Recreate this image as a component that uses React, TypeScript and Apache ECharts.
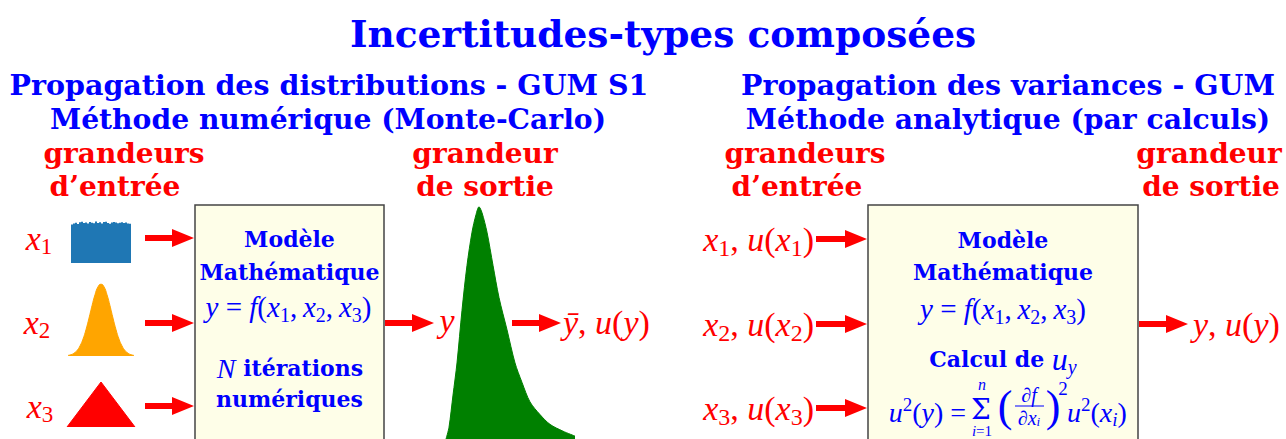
import React, { useEffect, useRef } from 'react';
import * as echarts from 'echarts';

// ---------- data ----------
// x1 : uniform distribution (histogram, noisy top)
const uniformBins = ['1','2','3','4','5','6','7','8','9','10','11','12','13','14','15','16','17','18','19','20','21','22','23','24','25','26','27','28','29','30'];
const uniformHeights = [38.6, 39.4, 40.2, 39.1, 40.8, 41.3, 40.0, 40.6, 39.4, 41.0, 40.3, 39.8, 41.5, 40.1, 40.7, 39.6, 40.9, 41.2, 40.0, 39.3, 40.5, 41.1, 40.4, 39.7, 40.2, 40.8, 39.9, 40.6, 39.5, 39.2];
// x2 : gaussian distribution
const gaussX = [-33, -30, -27, -24, -21, -18, -15, -12, -9, -6, -3, 0, 3, 6, 9, 12, 15, 18, 21, 24, 27, 30, 33];
const gaussY = [0.6, 1.3, 2.8, 5.5, 10.1, 16.9, 26.4, 37.9, 50.2, 61.3, 69.2, 72, 69.2, 61.3, 50.2, 37.9, 26.4, 16.9, 10.1, 5.5, 2.8, 1.3, 0.6];
// x3 : triangular distribution
const triX = [0, 34, 68];
const triY = [0, 45, 0];
// y : output distribution (skewed)
const greenX = [6, 9, 13, 17, 22, 27, 32, 36, 39, 42, 47, 53, 59, 67, 75, 82, 90, 100, 110, 123, 135];
const greenY = [0, 12, 45, 78, 132, 178, 212, 230, 238, 232, 212, 178, 145, 112, 78, 58, 38, 25, 15, 8, 3];

// texts
const title = 'Incertitudes-types composées';
const leftHead = ['Propagation des distributions - GUM S1', 'Méthode numérique (Monte-Carlo)'];
const rightHead = ['Propagation des variances - GUM', 'Méthode analytique (par calculs)'];
const inLabel = ['grandeurs', 'd’entrée'];
const outLabel = ['grandeur', 'de sortie'];

const BLUE = '#0000ff';
const RED = '#ff0000';
const SERIF = 'DejaVu Serif';
const MATH = 'Liberation Serif';
const TH = '\u2009';

function richSet(size: number, sub: number, color: string, extra: any = {}) {
  return {
    i: { fontFamily: MATH, fontStyle: 'italic', fontSize: size, fill: color },
    n: { fontFamily: MATH, fontSize: size, fill: color },
    b: { fontFamily: SERIF, fontWeight: 'bold', fontSize: 22, fill: color },
    s: { fontFamily: MATH, fontSize: sub, fill: color, padding: [Math.round(sub * 0.75), 0, 0, 0] },
    si: { fontFamily: MATH, fontStyle: 'italic', fontSize: sub, fill: color, padding: [Math.round(sub * 0.75), 0, 0, 0] },
    p: { fontFamily: MATH, fontSize: sub, fill: color, padding: [0, 0, Math.round(sub * 0.8), 0] },
    ...extra,
  };
}

function rt(text: string, x: number, y: number, size: number, sub: number, color: string, align = 'center', extra: any = {}) {
  return {
    type: 'text', z: 10, silent: true,
    style: { text, x, y, align, verticalAlign: 'middle', fontFamily: MATH, fontSize: size, fill: color, rich: richSet(size, sub, color, extra) },
  };
}

function pt(text: string, x: number, y: number, size: number, color: string, weight = 'bold', align = 'center', fontStyle = 'normal', family = SERIF) {
  return {
    type: 'text', z: 10, silent: true,
    style: { text, x, y, align, verticalAlign: 'middle', fontFamily: family, fontSize: size, fontWeight: weight, fontStyle, fill: color },
  };
}

function arrow(x0: number, x1: number, y: number) {
  const xh = x1 - 22;
  return {
    type: 'polygon', z: 5, silent: true,
    shape: { points: [[x0, y - 3], [xh, y - 3], [xh, y - 9], [x1, y], [xh, y + 9], [xh, y + 3], [x0, y + 3]] },
    style: { fill: RED },
  };
}

export default function App() {
  const ref = useRef<HTMLDivElement>(null);
  useEffect(() => {
    if (!ref.current) return;
    const chart = echarts.init(ref.current, null, { renderer: 'svg' });
    const hidden = { show: false };
    const boxFormula = `{i|y}{n| = }{i|f}{n|(}{i|x}{s|1}{n|,${TH}}{i|x}{s|2}{n|,${TH}}{i|x}{s|3}{n|)}`;
    const graphic: any[] = [
      // boxes
      { type: 'rect', z: 1, silent: true, shape: { x: 195, y: 205, width: 189, height: 260 }, style: { fill: '#fefee8', stroke: '#444444', lineWidth: 1.5 } },
      { type: 'rect', z: 1, silent: true, shape: { x: 868, y: 205, width: 270, height: 260 }, style: { fill: '#fefee8', stroke: '#444444', lineWidth: 1.5 } },
      // headings
      pt(title, 663, 34, 37.5, BLUE, 'bold'),
      pt(leftHead[0], 329, 85, 28.5, BLUE),
      pt(leftHead[1], 328, 119, 28.2, BLUE),
      pt(rightHead[0], 1008, 85, 28.5, BLUE),
      pt(rightHead[1], 1008, 119, 28.2, BLUE),
      pt(inLabel[0], 124, 153, 28, RED),
      pt(inLabel[1], 115, 186, 28, RED),
      pt(outLabel[0], 485, 153, 28, RED),
      pt(outLabel[1], 485, 186, 28, RED),
      pt(inLabel[0], 805, 153, 28, RED),
      pt(inLabel[1], 797, 186, 28, RED),
      pt(outLabel[0], 1209, 153, 28, RED),
      pt(outLabel[1], 1211, 186, 28, RED),
      // left inputs
      rt('{i|x}{s|1}', 39, 238, 34, 23, RED),
      rt('{i|x}{s|2}', 37, 322, 34, 23, RED),
      rt('{i|x}{s|3}', 40, 406, 34, 23, RED),
      arrow(145, 194, 238),
      arrow(145, 194, 323),
      arrow(145, 194, 406),
      // left box
      pt('Modèle', 289.5, 239, 22, BLUE),
      pt('Mathématique', 289.5, 272, 22, BLUE),
      rt(boxFormula, 288.5, 307, 29, 20, BLUE),
      rt('{i|N}{b| itérations}', 290, 368, 28, 19, BLUE),
      pt('numériques', 289.5, 399, 22, BLUE),
      // left outputs
      arrow(385, 434, 323),
      rt('{i|y}', 447, 320, 34, 23, RED),
      arrow(512, 561, 323),
      rt('{i|ȳ}{n|, }{i|u}{n|(}{i|y}{n|)}', 563, 322, 34, 23, RED, 'left'),
      // right inputs
      rt('{i|x}{s|1}{n|, }{i|u}{n|(}{i|x}{s|1}{n|)}', 814, 239, 34, 24, RED, 'right'),
      rt('{i|x}{s|2}{n|, }{i|u}{n|(}{i|x}{s|2}{n|)}', 814, 324, 34, 24, RED, 'right'),
      rt('{i|x}{s|3}{n|, }{i|u}{n|(}{i|x}{s|3}{n|)}', 814, 408, 34, 24, RED, 'right'),
      arrow(816, 867, 239),
      arrow(816, 867, 324),
      arrow(816, 867, 408),
      // right box
      pt('Modèle', 1003, 240, 22, BLUE),
      pt('Mathématique', 1003, 272, 22, BLUE),
      rt(boxFormula, 1003, 309, 29, 20, BLUE),
      rt('{b|Calcul de }{iu|u}{si|y}', 1003, 359, 27, 20, BLUE, 'center', { iu: { fontFamily: MATH, fontStyle: 'italic', fontSize: 32, fill: BLUE } }),
      rt('{i|u}{p|2}{n|(}{i|y}{n|) =}', 966, 412, 28, 19, BLUE, 'right'),
      pt('Σ', 981, 409, 28, BLUE, 'normal'),
      pt('n', 982, 384, 16, BLUE, 'normal', 'center', 'italic', MATH),
      rt('{i|i}{n|=1}', 982, 431, 15, 11, BLUE),
      pt('(', 1005, 406, 44, BLUE, 'normal', 'center', 'normal', MATH),
      rt('{i|∂f}', 1029, 395, 20, 13, BLUE),
      { type: 'line', z: 10, silent: true, shape: { x1: 1015, y1: 406, x2: 1044, y2: 406 }, style: { stroke: BLUE, lineWidth: 1 } },
      rt('{i|∂x}{q|i}', 1029, 418, 20, 13, BLUE, 'center', { q: { fontFamily: MATH, fontStyle: 'italic', fontSize: 13, fill: BLUE, padding: [6, 0, 0, 0] } }),
      pt(')', 1053, 406, 44, BLUE, 'normal', 'center', 'normal', MATH),
      pt('2', 1063, 388, 19, BLUE, 'normal', 'center', 'normal', MATH),
      rt('{i|u}{p|2}{n|(}{i|x}{si|i}{n|)}', 1067, 412, 28, 19, BLUE, 'left'),
      // right output
      arrow(1139, 1188, 324),
      rt('{i|y}{n|, }{i|u}{n|(}{i|y}{n|)}', 1193, 324, 34, 23, RED, 'left'),
    ];

    chart.setOption({
      animation: false,
      backgroundColor: '#ffffff',
      grid: [
        { left: 71, top: 221, width: 60, height: 42 },
        { left: 68, top: 284, width: 66, height: 72 },
        { left: 67, top: 382, width: 68, height: 45 },
        { left: 440, top: 200, width: 140, height: 245 },
      ],
      xAxis: [
        { gridIndex: 0, type: 'category', data: uniformBins, ...hidden },
        { gridIndex: 1, type: 'value', min: -33, max: 33, ...hidden },
        { gridIndex: 2, type: 'value', min: 0, max: 68, ...hidden },
        { gridIndex: 3, type: 'value', min: 0, max: 140, ...hidden },
      ],
      yAxis: [
        { gridIndex: 0, type: 'value', min: 0, max: 42, ...hidden },
        { gridIndex: 1, type: 'value', min: 0, max: 72, ...hidden },
        { gridIndex: 2, type: 'value', min: 0, max: 45, ...hidden },
        { gridIndex: 3, type: 'value', min: 0, max: 245, ...hidden },
      ],
      series: [
        { type: 'bar', xAxisIndex: 0, yAxisIndex: 0, data: uniformHeights, barCategoryGap: '0%', itemStyle: { color: '#1f77b4' }, silent: true },
        { type: 'line', xAxisIndex: 1, yAxisIndex: 1, data: gaussX.map((x, i) => [x, gaussY[i]]), smooth: true, showSymbol: false, lineStyle: { color: '#ffa500', width: 1 }, areaStyle: { color: '#ffa500', opacity: 1 }, silent: true },
        { type: 'line', xAxisIndex: 2, yAxisIndex: 2, data: triX.map((x, i) => [x, triY[i]]), showSymbol: false, lineStyle: { color: '#ff0000', width: 1 }, areaStyle: { color: '#ff0000', opacity: 1 }, silent: true },
        { type: 'line', xAxisIndex: 3, yAxisIndex: 3, data: greenX.map((x, i) => [x, greenY[i]]), smooth: 0.3, showSymbol: false, lineStyle: { color: '#008000', width: 1 }, areaStyle: { color: '#008000', opacity: 1 }, silent: true },
      ],
      graphic,
    });
    return () => chart.dispose();
  }, []);
  return <div ref={ref} style={{ position: 'absolute', left: 0, top: 0, width: 1286, height: 439, background: '#fff' }} />;
}
